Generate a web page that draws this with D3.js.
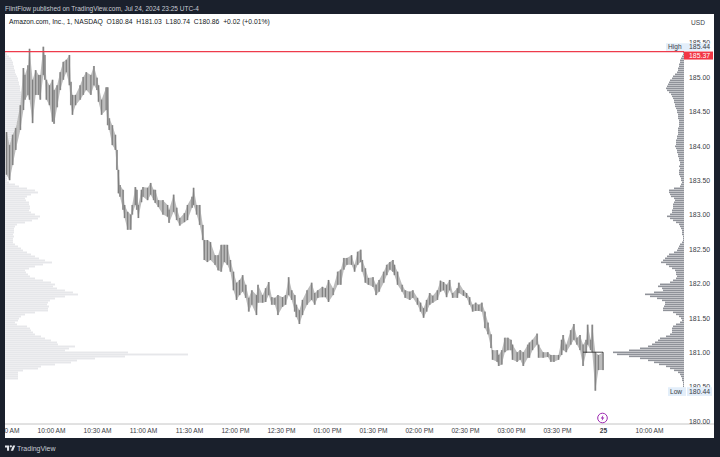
<!DOCTYPE html>
<html><head><meta charset="utf-8">
<script src="https://cdn.jsdelivr.net/npm/d3@7/dist/d3.min.js"></script>
<style>html,body{margin:0;padding:0;background:#1a202c}svg{display:block}svg text{font-family:"Liberation Sans",Arial,sans-serif}</style>
</head><body><svg id="c" width="720" height="457"></svg>
<script>
const barMinutes=[1,3,5,7,10,12,13,15,16,18,20,22,23,25,26,27,29,31,32,34,36,38,40,42,43,44,46,49,51,53,56,58,60,61,63,66,67,68,70,72,73,74,75,77,78,80,82,83,85,86,87,89,90,93,95,97,98,100,103,106,107,110,112,114,117,119,122,123,125,127,129,130,132,134,137,139,141,143,145,147,149,151,153,155,157,159,161,164,165,168,170,172,174,176,178,181,183,185,187,189,190,192,194,197,200,202,204,207,209,211,214,217,219,221,223,226,228,230,232,233,235,237,240,242,244,247,249,251,253,254,256,259,261,264,266,269,271,273,275,277,279,282,284,286,288,290,292,295,296,299,301,303,305,307,309,311,313,315,317,318,321,322,324,326,328,330,331,334,336,338,341,342,344,347,348,351,354,356,358,361,363,364,366,369,371,373,375,377,379,380,382,383,385,387,390];
const highs=[184.20,184.01,184.16,184.26,184.59,185.13,185.03,185.17,185.41,184.96,185.10,185.03,185.03,185.44,185.32,184.96,184.88,184.96,184.81,184.88,185.07,185.22,185.25,185.32,184.93,184.74,184.74,184.88,185.00,185.07,185.03,185.16,184.99,184.88,184.67,184.85,184.85,184.40,184.30,184.16,183.94,183.65,183.43,183.36,183.14,183.04,183.00,183.14,183.40,183.36,183.14,183.36,183.40,183.39,183.46,183.36,183.36,183.21,183.21,183.14,183.07,183.29,183.10,182.95,183.02,183.14,183.26,183.39,183.14,183.14,182.85,182.63,182.63,182.60,182.41,182.41,182.56,182.56,182.56,182.34,182.17,182.01,182.05,182.12,181.98,181.79,181.90,181.83,181.98,181.83,181.93,182.02,181.80,181.79,181.83,181.80,181.83,182.09,181.90,181.83,181.69,181.61,181.76,181.90,182.01,181.86,181.90,181.95,181.93,182.05,181.93,182.17,182.20,182.37,182.37,182.41,182.27,182.46,182.49,182.34,182.22,182.08,182.09,181.98,182.05,182.17,182.27,182.31,182.34,182.27,182.17,181.98,181.90,181.88,181.90,181.79,181.72,181.64,181.76,181.86,181.82,181.90,182.04,182.02,181.98,182.05,181.86,181.93,182.01,181.90,181.86,181.80,181.69,181.72,181.69,181.72,181.59,181.43,181.26,181.03,181.03,180.96,181.03,181.21,181.21,181.18,181.11,181.00,181.03,181.00,181.11,181.14,181.18,181.27,181.11,181.00,181.00,180.96,180.96,180.96,181.18,181.25,181.11,181.32,181.41,181.21,181.25,181.11,181.18,181.40,181.18,181.40,181.00,180.96,181.00];
const lows=[183.58,183.50,183.72,183.94,184.23,184.52,184.67,184.74,184.67,184.33,184.74,184.74,184.67,185.03,184.96,184.67,184.59,184.35,184.32,184.56,184.81,184.96,185.07,184.88,184.59,184.45,184.59,184.67,184.74,184.81,184.74,184.88,184.81,184.64,184.45,184.52,184.30,184.23,184.01,183.94,183.65,183.31,183.26,183.07,182.95,182.78,182.78,183.00,183.14,183.07,182.95,183.18,183.26,183.21,183.29,183.21,183.17,183.11,183.00,182.97,182.88,183.04,182.92,182.84,182.89,182.92,183.10,183.14,183.00,182.85,182.63,182.34,182.31,182.34,182.27,182.19,182.17,182.31,182.27,182.17,181.90,181.76,181.83,181.88,181.79,181.59,181.69,181.54,181.72,181.72,181.73,181.83,181.69,181.69,181.54,181.66,181.69,181.83,181.76,181.59,181.51,181.41,181.54,181.69,181.76,181.69,181.79,181.80,181.80,181.73,181.83,181.98,181.98,182.20,182.27,182.27,182.17,182.27,182.31,182.17,182.01,181.98,181.95,181.83,181.88,182.01,182.12,182.20,182.17,182.12,181.98,181.88,181.79,181.76,181.79,181.69,181.59,181.50,181.59,181.69,181.72,181.76,181.88,181.90,181.80,181.90,181.79,181.79,181.86,181.82,181.79,181.69,181.59,181.60,181.60,181.59,181.35,181.26,181.06,180.89,180.86,180.80,180.82,181.00,181.03,181.03,180.89,180.86,180.89,180.80,180.92,180.92,181.03,181.11,180.92,180.92,180.93,180.86,180.86,180.89,180.96,181.03,181.00,181.11,181.18,181.11,181.03,180.80,180.99,181.11,181.03,181.00,180.44,180.74,180.74];
const leftVolumes=[1,2,4,6,7,8,8,9,9,10,10,11,12,13,13,14,14,15,15,15,16,16,16,16,16,17,17,16,16,16,15,14,14,13,12,12,11,11,10,10,10,10,11,10,10,9,9,8,8,8,7,7,7,6,6,5,5,4,4,3,3,2,2,2,2,4,10,14,22,30,33,26,22,20,21,24,24,25,25,24,26,30,35,33,27,20,12,10,9,9,9,8,9,8,8,8,10,13,16,18,22,26,30,34,40,47,38,30,24,20,21,23,25,30,38,46,50,48,52,60,68,73,60,50,45,43,42,44,43,43,30,20,16,14,13,10,12,22,25,26,28,30,36,40,46,52,53,70,64,60,123,183,120,90,72,66,50,36,33,18,13,13,13,13];
const rightVolumes=[1,1,2,3,4,4,5,5,6,6,7,9,11,12,14,15,16,17,18,17,15,13,12,11,10,10,9,9,8,7,7,6,6,6,5,5,5,5,6,6,6,6,7,7,8,8,8,9,8,7,7,6,6,5,5,4,4,5,4,5,5,5,4,3,3,2,3,4,10,15,15,14,13,10,9,10,11,11,11,12,12,14,17,14,11,8,5,4,3,2,2,2,1,1,1,2,4,5,6,7,10,15,17,19,21,23,18,15,12,9,8,8,7,8,11,14,24,26,22,21,30,39,34,27,22,19,19,20,21,21,11,8,5,3,2,4,8,11,12,12,12,14,18,24,26,29,32,36,44,55,71,67,55,44,36,30,25,18,14,10,6,4,3,2,2,1,1,1];
const priceTicks=[180,180.5,181,181.5,182,182.5,183,183.5,184,184.5,185,185.5];
const timeTicks=[0,30,60,90,120,150,180,210,240,270,300,330,360,390,420];
const timeLabels=["09:30 AM","10:00 AM","10:30 AM","11:00 AM","11:30 AM","12:00 PM","12:30 PM","01:00 PM","01:30 PM","02:00 PM","02:30 PM","03:00 PM","03:30 PM","25","10:00 AM"];
const headerText="FlintFlow published on TradingView.com, Jul 24, 2024 23:25 UTC-4";
const legendText=["Amazon.com, Inc., 1, NASDAQ","O180.84","H181.03","L180.74","C180.86","+0.02 (+0.01%)"];
const lastPrice=185.37, highPrice=185.44, lowPrice=180.44, prevClose=181, profileTop=185.37, profileStep=0.02907;

const svg=d3.select("#c");
const dark="#1a202c", axisInk="#3a3d46";
const plot={l:5,r:684,t:14,b:424,R:714,B:438};
const y=d3.scaleLinear().domain([185,180]).range([77,421]);
const x=d3.scaleLinear().domain([0,390]).range([5,603]);
svg.append("rect").attr("width",720).attr("height",457).attr("fill",dark);
svg.append("rect").attr("x",plot.l).attr("y",plot.t).attr("width",plot.R-plot.l).attr("height",plot.B-plot.t).attr("fill","#fff");
const defs=svg.append("defs");
defs.append("clipPath").attr("id","cp").append("rect").attr("x",plot.l).attr("y",plot.t).attr("width",plot.r-plot.l).attr("height",plot.b-plot.t);
const g=svg.append("g").attr("clip-path","url(#cp)");
const rowY=i=>y(profileTop-i*profileStep);
const vL=d3.scaleLinear().domain([0,d3.max(leftVolumes)]).range([0,183]);
const vR=d3.scaleLinear().domain([0,d3.max(rightVolumes)]).range([0,71]);
g.selectAll(".pl").data(leftVolumes).join("rect").attr("x",plot.l).attr("y",(d,i)=>rowY(i)).attr("width",d=>vL(d)).attr("height",1.9).attr("fill","#e6e7ea");
g.selectAll(".pr").data(rightVolumes).join("rect").attr("x",d=>plot.r-vR(d)).attr("y",(d,i)=>rowY(i)).attr("width",d=>vR(d)).attr("height",1.6).attr("fill","#8f9299");
const data=barMinutes.map((m,i)=>({m,h:highs[i],l:lows[i]}));
const band=d3.area().x(d=>x(d.m)).y0(d=>y(d.l)).y1(d=>y(d.h));
g.append("path").attr("d",band(data)).attr("fill","#bcbcbc");
g.selectAll(".b").data(data).join("rect").attr("x",d=>x(d.m)-1).attr("width",2).attr("y",d=>y(d.h)).attr("height",d=>y(d.l)-y(d.h)).attr("fill","#aeaeae");
g.selectAll(".w").data(data).join("line").attr("x1",d=>x(d.m)).attr("x2",d=>x(d.m)).attr("y1",d=>y(d.h)).attr("y2",d=>y(d.l)).attr("stroke","#5a5a5a").attr("stroke-width",.6);
g.append("line").attr("x1",x(377)).attr("x2",x(390)).attr("y1",y(prevClose)).attr("y2",y(prevClose)).attr("stroke","#222").attr("stroke-width",.8);
g.append("line").attr("x1",plot.l).attr("x2",plot.r).attr("y1",y(lastPrice)).attr("y2",y(lastPrice)).attr("stroke","#ee3b4b").attr("stroke-width",1.2);

svg.append("line").attr("x1",plot.l).attr("x2",plot.R).attr("y1",plot.b).attr("y2",plot.b).attr("stroke","#c4c4c4").attr("stroke-width",1);
const yAxis=d3.axisRight(y).tickValues(priceTicks).tickFormat(d3.format(".2f")).tickSize(0).tickPadding(0);
const ya=svg.append("g").attr("transform","translate(689,0)").call(yAxis);
ya.attr("font-family",null).attr("font-size",null);
ya.select(".domain").remove();
ya.selectAll("text").attr("fill",axisInk).attr("font-size",6.9);
const xAxis=d3.axisBottom(x).tickValues(timeTicks).tickFormat((d,i)=>timeLabels[i]).tickSize(0).tickPadding(0);
const xa=svg.append("g").attr("transform",`translate(0,${plot.b+4.5})`).call(xAxis);
xa.attr("font-family",null).attr("font-size",null);
xa.select(".domain").remove();
xa.selectAll("text").attr("fill",axisInk).attr("font-size",6.6).attr("font-weight",(d,i)=>timeLabels[i]==="25"?700:400);
svg.append("rect").attr("x",0).attr("y",plot.b).attr("width",plot.l).attr("height",plot.B-plot.b).attr("fill",dark);

svg.append("text").attr("x",5).attr("y",10.5).attr("fill","#c9ccd4").attr("font-size",6.5).text(headerText);
svg.append("text").attr("x",9).attr("y",24).attr("fill","#131722").attr("font-size",6.75)
 .selectAll("tspan").data(legendText).join("tspan").attr("dx",(d,i)=>i?3.8:0).text(d=>d);
svg.append("text").attr("x",691).attr("y",25).attr("fill",axisInk).attr("font-size",6.6).text("USD");

const tag="#e3eefa";
svg.append("rect").attr("x",666).attr("y",y(highPrice)-3.5).attr("width",44).attr("height",7.6).attr("fill",tag);
svg.append("text").attr("x",668).attr("y",y(highPrice)+2.5).attr("fill",axisInk).attr("font-size",6.6).text("High");
svg.append("text").attr("x",689).attr("y",y(highPrice)+2.5).attr("fill",axisInk).attr("font-size",6.9).text(d3.format(".2f")(highPrice));
svg.append("rect").attr("x",684).attr("y",y(lastPrice)).attr("width",29).attr("height",8).attr("fill","#f23645");
svg.append("text").attr("x",689).attr("y",y(lastPrice)+6.4).attr("fill","#fff").attr("font-size",6.9).text(d3.format(".2f")(lastPrice));
svg.append("rect").attr("x",668).attr("y",y(lowPrice)-3.5).attr("width",18).attr("height",8.7).attr("fill",tag);
svg.append("rect").attr("x",687).attr("y",y(lowPrice)-3.5).attr("width",25).attr("height",8.7).attr("fill",tag);
svg.append("text").attr("x",670).attr("y",y(lowPrice)+3).attr("fill",axisInk).attr("font-size",6.6).text("Low");
svg.append("text").attr("x",689).attr("y",y(lowPrice)+3).attr("fill",axisInk).attr("font-size",6.9).text(d3.format(".2f")(lowPrice));

const ev=svg.append("g").attr("transform","translate(602.5,418)");
ev.append("circle").attr("r",4.8).attr("fill","#fff").attr("stroke","#9c27b0").attr("stroke-width",1);
ev.append("path").attr("d","M0.8 -3 L-1.8 0.6 L-0.2 0.6 L-0.8 3 L1.8 -0.6 L0.2 -0.6 Z").attr("fill","#9c27b0");

const logo=svg.append("g").attr("transform","translate(5,444.3) scale(0.29)").attr("fill","#e4e6eb");
logo.append("path").attr("d","M14 22H7V11H0V4h14v18zM28 22h-8l7.5-18h8L28 22z");
logo.append("circle").attr("cx",20).attr("cy",7).attr("r",4);
svg.append("text").attr("x",17).attr("y",450.7).attr("fill","#c9ccd4").attr("font-size",7).text("TradingView");
</script></body></html>
